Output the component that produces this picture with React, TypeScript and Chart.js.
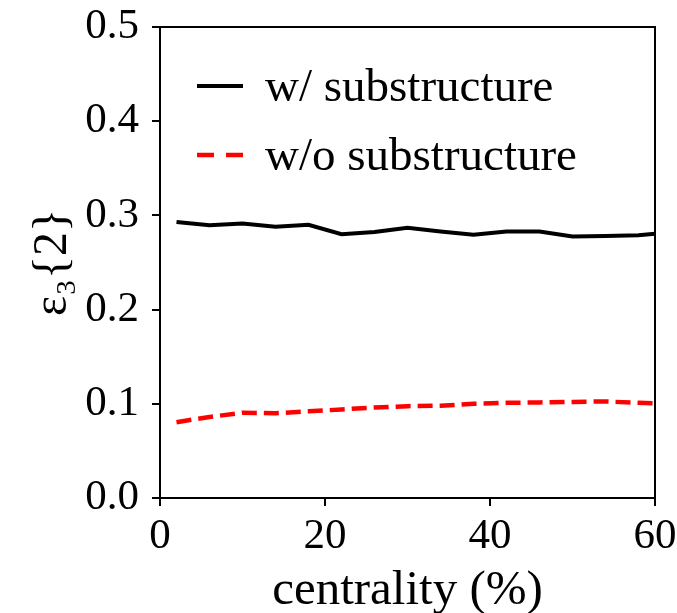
import React, { useEffect, useRef } from 'react';
import { Chart, registerables } from 'chart.js';

Chart.register(...registerables);

const centrality = [2, 6, 10, 14, 18, 22, 26, 30, 34, 38, 42, 46, 50, 54, 58, 60];
const withSubstructure = [0.293, 0.2895, 0.2915, 0.288, 0.29, 0.28, 0.2825, 0.287, 0.283, 0.2795, 0.283, 0.283, 0.2775, 0.278, 0.279, 0.2805];
const withoutSubstructure = [0.0805, 0.086, 0.0905, 0.09, 0.092, 0.094, 0.096, 0.0975, 0.098, 0.1, 0.101, 0.1015, 0.102, 0.1025, 0.101, 0.1005];
const seriesLabels = ['w/ substructure', 'w/o substructure'];
const xTickValues = [0, 20, 40, 60];
const yTickValues = [0, 0.1, 0.2, 0.3, 0.4, 0.5];
const xTitle = 'centrality (%)';
const yTitle = 'ε₃{2}';

const FONT = "'Liberation Serif', 'DejaVu Serif', serif";

const framePlugin = {
  id: 'frame',
  afterDraw(chart: any) {
    const { ctx, chartArea } = chart;
    ctx.save();
    ctx.strokeStyle = '#000';
    ctx.lineWidth = 2;
    ctx.strokeRect(chartArea.left, chartArea.top, chartArea.right - chartArea.left, chartArea.bottom - chartArea.top);
    ctx.restore();
  },
};

const legendPlugin = {
  id: 'customLegend',
  afterDraw(chart: any) {
    const { ctx, chartArea } = chart;
    ctx.save();
    chart.data.datasets.forEach((ds: any, i: number) => {
      const y = chartArea.top + 59 + i * 69;
      const x0 = chartArea.left + 37;
      const x1 = chartArea.left + 83;
      ctx.strokeStyle = ds.borderColor;
      ctx.lineWidth = ds.borderWidth;
      ctx.setLineDash(ds.borderDash && ds.borderDash.length ? [17, 12] : []);
      ctx.beginPath();
      ctx.moveTo(x0, y);
      ctx.lineTo(x1, y);
      ctx.stroke();
      ctx.setLineDash([]);
      ctx.fillStyle = '#000';
      ctx.font = `47px ${FONT}`;
      ctx.textBaseline = 'alphabetic';
      ctx.textAlign = 'left';
      ctx.fillText(ds.label, chartArea.left + 105, y + 15);
    });
    ctx.restore();
  },
};

function zeroPadding(s: any) {
  s.paddingTop = 0;
  s.paddingBottom = 0;
  s.paddingLeft = 0;
  s.paddingRight = 0;
}

export default function App() {
  const ref = useRef<HTMLCanvasElement | null>(null);
  useEffect(() => {
    document.body.style.margin = '0';
    const canvas = ref.current;
    if (!canvas) return;
    const chart = new Chart(canvas, {
      type: 'line',
      data: {
        datasets: [
          {
            label: seriesLabels[0],
            data: centrality.map((x, i) => ({ x, y: withSubstructure[i] })),
            borderColor: '#000000',
            borderWidth: 4,
            pointRadius: 0,
            tension: 0,
            fill: false,
          },
          {
            label: seriesLabels[1],
            data: centrality.map((x, i) => ({ x, y: withoutSubstructure[i] })),
            borderColor: '#ff0000',
            borderWidth: 4.5,
            borderDash: [15, 7],
            pointRadius: 0,
            tension: 0,
            fill: false,
          },
        ],
      },
      options: {
        animation: false,
        responsive: false,
        devicePixelRatio: 1,
        layout: { padding: { left: 0, right: 22, top: 27, bottom: 0 } },
        plugins: {
          legend: { display: false },
          tooltip: { enabled: false },
        },
        scales: {
          x: {
            type: 'linear',
            min: 0,
            max: 60,
            afterFit: (s: any) => { s.height = 115; zeroPadding(s); },
            afterBuildTicks: (s: any) => { s.ticks = xTickValues.map((v) => ({ value: v })); },
            ticks: {
              color: '#000',
              font: { family: FONT, size: 43 },
              padding: 5,
              maxRotation: 0,
              callback: (v: any) => String(v),
            },
            grid: { display: true, drawOnChartArea: false, drawTicks: true, tickLength: 8, color: '#000', lineWidth: 2 },
            border: { display: false },
            title: {
              display: true,
              text: xTitle,
              color: '#000',
              font: { family: FONT, size: 49 },
              padding: { top: 0, bottom: -8 },
            },
          },
          y: {
            type: 'linear',
            min: 0,
            max: 0.5,
            afterFit: (s: any) => { s.width = 160; zeroPadding(s); },
            afterBuildTicks: (s: any) => { s.ticks = yTickValues.map((v) => ({ value: v })); },
            ticks: {
              color: '#000',
              font: { family: FONT, size: 43 },
              padding: 13,
              callback: (v: any) => Number(v).toFixed(1),
            },
            grid: { display: true, drawOnChartArea: false, drawTicks: true, tickLength: 8, color: '#000', lineWidth: 2 },
            border: { display: false },
            title: {
              display: true,
              text: yTitle,
              color: '#000',
              font: { family: FONT, size: 48 },
              padding: { top: 25, bottom: 0 },
            },
          },
        },
      },
      plugins: [framePlugin, legendPlugin],
    });
    return () => chart.destroy();
  }, []);
  return (
    <div style={{ position: 'absolute', left: 0, top: 0, width: 677, height: 613, background: '#fff' }}>
      <canvas ref={ref} width={677} height={613} />
    </div>
  );
}
